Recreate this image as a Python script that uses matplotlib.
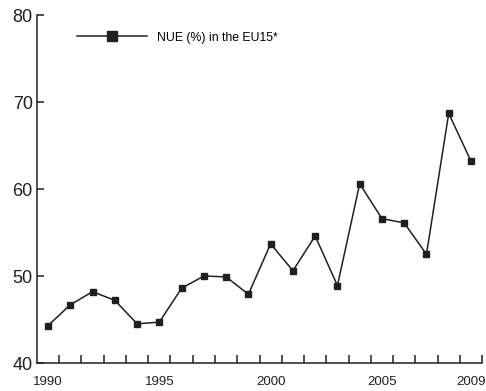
import numpy as np
import matplotlib.pyplot as plt
from matplotlib.ticker import FixedLocator

plt.rcParams['font.family'] = ['Liberation Sans', 'DejaVu Sans']

# NUE values
years = [1990, 1991, 1992, 1993, 1994, 1995, 1996, 1997, 1998, 1999,
         2000, 2001, 2002, 2003, 2004, 2005, 2006, 2007, 2008, 2009]
nue = [44.3, 46.7, 48.2, 47.2, 44.5, 44.7, 48.6, 50.0, 49.9, 47.9,
       53.7, 50.6, 54.6, 48.9, 60.6, 56.6, 56.1, 52.5, 68.7, 63.2]
x_labels = [1990, 1995, 2000, 2005, 2009]
y_ticks = [40, 50, 60, 70, 80]

fig = plt.figure(figsize=(4.86, 3.91), dpi=100)
ax = fig.add_axes([0.076, 0.0716, 0.916, 0.89])

col = '#231f20'
ax.plot(years, nue, color=col, lw=1.1, marker='s', markersize=5,
        label='NUE (%) in the EU15*')

ax.set_xlim(1989.5, 2009.5)
ax.set_ylim(40, 80)

ax.spines['top'].set_visible(False)
ax.spines['right'].set_visible(False)
for s in ['left', 'bottom']:
    ax.spines[s].set_color(col)
    ax.spines[s].set_linewidth(1.1)

# labels on the years, tick marks between years
ax.set_xticks(x_labels)
ax.xaxis.set_minor_locator(FixedLocator(np.arange(1990.5, 2010, 1.0)))
ax.tick_params(axis='x', which='major', length=0, pad=9, labelsize=9.5, colors=col)
ax.tick_params(axis='x', which='minor', direction='in', length=6, width=1.1, color=col)

ax.set_yticks(y_ticks)
ax.tick_params(axis='y', direction='in', length=5, width=1.1, pad=3,
               labelsize=13, colors=col)

leg = ax.legend(loc='upper left', bbox_to_anchor=(0.066, 0.984), frameon=False,
                fontsize=8.8, handlelength=5.7, handletextpad=0.8,
                markerscale=1.4)

plt.savefig('out.png', dpi=100)
